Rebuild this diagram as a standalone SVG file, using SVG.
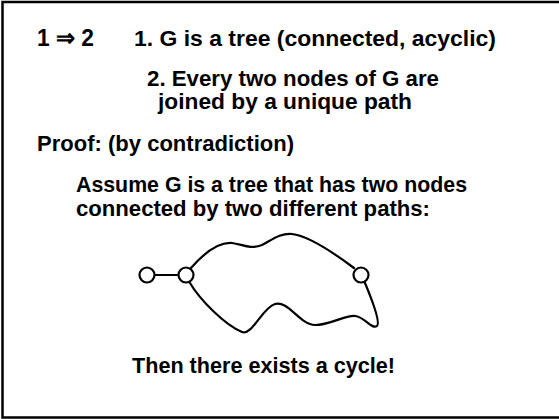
<svg xmlns="http://www.w3.org/2000/svg" width="559" height="419" viewBox="0 0 559 419">
  <style>
    .t { font-family: "Liberation Sans", Arial, sans-serif; font-weight: bold; font-size: 22px; fill: #000; }
    .big { font-size: 24px; }
    .edge { fill: none; stroke: #000; stroke-width: 2.2; stroke-linecap: round; }
    .node { fill: #fff; stroke: #000; stroke-width: 2.2; }
  </style>
  <rect width="559" height="419" fill="#fff"/>
  <!-- slide frame (open on the right) -->
  <path d="M562,2 H2.5 V417.5 H562" fill="none" stroke="#000" stroke-width="2.5"/>

  <text class="t big" x="37" y="46" textLength="57" lengthAdjust="spacingAndGlyphs">1 ⇒ 2</text>
  <text class="t" x="134" y="46" textLength="362" lengthAdjust="spacingAndGlyphs">1. G is a tree (connected, acyclic)</text>
  <text class="t" x="147" y="86" textLength="292" lengthAdjust="spacingAndGlyphs">2. Every two nodes of G are</text>
  <text class="t" x="158" y="109" textLength="254" lengthAdjust="spacingAndGlyphs">joined by a unique path</text>
  <text class="t" x="37" y="151" textLength="257" lengthAdjust="spacingAndGlyphs">Proof: (by contradiction)</text>
  <text class="t" x="76" y="192" textLength="391" lengthAdjust="spacingAndGlyphs">Assume G is a tree that has two nodes</text>
  <text class="t" x="76" y="216" textLength="354" lengthAdjust="spacingAndGlyphs">connected by two different paths:</text>
  <text class="t" x="132" y="373" textLength="263" lengthAdjust="spacingAndGlyphs">Then there exists a cycle!</text>

  <g id="connectors">
    <path class="edge" d="M155,275 H177"/>
    <path class="edge" d="M191,268 C205,252 220,242 232,243 C242,244 250,250 262,245 C272,240 280,233 292,234 C310,236 338,256 354,268"/>
    <path class="edge" d="M190,283 C200,300 225,325 242,332 C252,336 262,308 275,304 C288,300 300,325 315,325 C330,325 345,315 355,316 C365,317 372,330 377,326 C381,322 370,295 365,283"/>
  </g>
  <g id="node-a"><circle class="node" cx="147" cy="275" r="7.5"/></g>
  <g id="node-b"><circle class="node" cx="186" cy="275" r="7.5"/></g>
  <g id="node-c"><circle class="node" cx="361" cy="275" r="7.5"/></g>
</svg>
